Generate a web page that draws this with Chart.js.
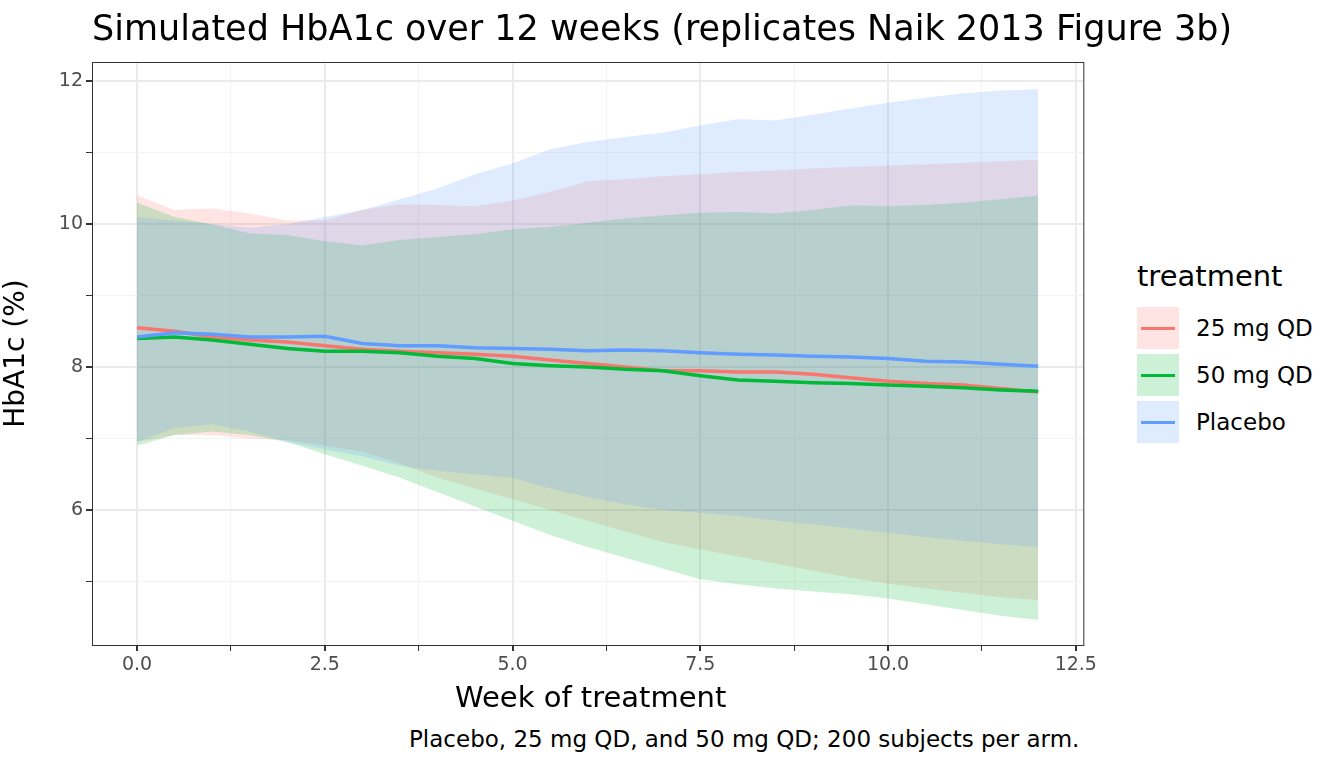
<!DOCTYPE html>
<html><head><meta charset="utf-8">
<script src="https://cdn.jsdelivr.net/npm/chart.js@4"></script>
<style>
body{margin:0;background:#fff;font-family:"DejaVu Sans",sans-serif;}
#wrap{position:relative;width:1344px;height:768px;}
#box{position:absolute;left:0;top:0;width:1100px;height:700px;}
.t{position:absolute;white-space:nowrap;color:#000;}
.key{position:absolute;left:1137px;width:42px;height:42px;}
.key i{position:absolute;left:4px;right:4px;top:20px;height:3px;}
</style></head><body>
<div id="wrap">
<div id="box"><canvas id="c"></canvas></div>
<div class="t" style="left:92px;top:8px;font-size:35px;">Simulated HbA1c over 12 weeks (replicates Naik 2013 Figure 3b)</div>
<div class="t" style="left:455px;top:680px;font-size:29px;">Week of treatment</div>
<div class="t" style="left:409px;top:726px;font-size:23px;">Placebo, 25 mg QD, and 50 mg QD; 200 subjects per arm.</div>
<div class="t" style="left:1137px;top:259px;font-size:29px;">treatment</div>
<div class="key" style="top:307px;background:rgba(248,118,109,0.2)"><i style="background:#F8766D"></i></div>
<div class="key" style="top:354px;background:rgba(0,186,56,0.2)"><i style="background:#00BA38"></i></div>
<div class="key" style="top:401px;background:rgba(97,156,255,0.2)"><i style="background:#619CFF"></i></div>
<div class="t" style="left:1196px;top:315px;font-size:23px;">25 mg QD</div>
<div class="t" style="left:1196px;top:362px;font-size:23px;">50 mg QD</div>
<div class="t" style="left:1196px;top:409px;font-size:23px;">Placebo</div>
</div>
<script>
const weeks = [0,0.5,1,1.5,2,2.5,3,3.5,4,4.5,5,5.5,6,6.5,7,7.5,8,8.5,9,9.5,10,10.5,11,11.5,12];
const qd25Mean = [8.55,8.5,8.42,8.38,8.35,8.3,8.25,8.22,8.2,8.18,8.15,8.1,8.05,8.0,7.95,7.95,7.93,7.93,7.9,7.85,7.8,7.77,7.75,7.7,7.65];
const qd25Upper = [10.4,10.2,10.22,10.15,10.05,10.05,10.2,10.28,10.27,10.25,10.33,10.45,10.6,10.63,10.67,10.7,10.73,10.75,10.78,10.8,10.82,10.84,10.86,10.88,10.9];
const qd25Lower = [6.95,7.05,7.05,7.0,6.98,6.9,6.82,6.65,6.45,6.3,6.15,6.0,5.85,5.7,5.55,5.45,5.35,5.25,5.15,5.05,4.97,4.9,4.84,4.78,4.74];
const qd50Mean = [8.4,8.42,8.38,8.32,8.26,8.22,8.22,8.2,8.15,8.12,8.05,8.02,8.0,7.97,7.95,7.88,7.82,7.8,7.78,7.77,7.75,7.73,7.71,7.68,7.66];
const qd50Upper = [10.3,10.1,10.0,9.87,9.85,9.76,9.7,9.78,9.82,9.86,9.93,9.96,10.02,10.08,10.12,10.16,10.17,10.15,10.2,10.26,10.25,10.27,10.3,10.35,10.4];
const qd50Lower = [6.9,7.05,7.1,7.05,6.95,6.78,6.62,6.45,6.25,6.05,5.85,5.65,5.48,5.33,5.18,5.03,4.96,4.9,4.86,4.82,4.76,4.68,4.6,4.52,4.46];
const placeboMean = [8.42,8.48,8.46,8.42,8.42,8.43,8.33,8.3,8.3,8.27,8.26,8.25,8.23,8.24,8.23,8.2,8.18,8.17,8.15,8.14,8.12,8.08,8.07,8.04,8.01];
const placeboUpper = [10.1,10.05,10.0,9.95,10.0,10.1,10.2,10.35,10.5,10.7,10.85,11.05,11.15,11.22,11.28,11.38,11.47,11.45,11.53,11.62,11.7,11.77,11.83,11.87,11.89];
const placeboLower = [6.95,7.15,7.2,7.1,6.95,6.85,6.75,6.62,6.55,6.5,6.45,6.3,6.18,6.08,6.0,5.96,5.92,5.85,5.8,5.74,5.68,5.62,5.57,5.52,5.48];

const pts = arr => arr.map((v,i) => ({x: weeks[i], y: v}));
function band(upper, lower, rgb) {
  return [
    {data: pts(upper), borderWidth: 0, pointRadius: 0, fill: '+1', backgroundColor: `rgba(${rgb},0.2)`},
    {data: pts(lower), borderWidth: 0, pointRadius: 0, fill: false}
  ];
}
function line(mean, color) {
  return {data: pts(mean), borderColor: color, borderWidth: 3.5, pointRadius: 0, fill: false};
}
// Chart.js paints the first dataset last, so lines go first
new Chart(document.getElementById('c'), {
  type: 'line',
  data: {datasets: [
    line(placeboMean, '#619CFF'), line(qd50Mean, '#00BA38'), line(qd25Mean, '#F8766D'),
    ...band(placeboUpper, placeboLower, '97,156,255'),
    ...band(qd50Upper, qd50Lower, '0,186,56'),
    ...band(qd25Upper, qd25Lower, '248,118,109')
  ]},
  options: {
    responsive: true, maintainAspectRatio: false, animation: false,
    layout: {padding: {top: 62, right: 8}},
    plugins: {legend: {display: false}, tooltip: {enabled: false}},
    scales: {
      x: {type: 'linear', min: -0.6, max: 12.6,
        afterFit: s => { s.height = 55; },
        afterBuildTicks: s => { s.ticks = [0,1.25,2.5,3.75,5,6.25,7.5,8.75,10,11.25,12.5].map(v => ({value: v})); },
        ticks: {color: '#4D4D4D', font: {size: 19, family: 'DejaVu Sans'}, autoSkip: false, maxRotation: 0,
          callback: v => (Math.abs(v / 2.5 - Math.round(v / 2.5)) < 1e-6) ? v.toFixed(1) : ''},
        grid: {color: ctx => (ctx.tick && Math.abs(ctx.tick.value / 2.5 - Math.round(ctx.tick.value / 2.5)) < 1e-6) ? '#EBEBEB' : '#F3F3F3', lineWidth: ctx => (ctx.tick && Math.abs(ctx.tick.value / 2.5 - Math.round(ctx.tick.value / 2.5)) < 1e-6) ? 2 : 1, tickColor: '#333', tickLength: 6},
        border: {color: '#333', width: 1}
      },
      y: {min: 4.11, max: 12.27,
        afterFit: s => { s.width = 92; },
        afterBuildTicks: s => { s.ticks = [5,6,7,8,9,10,11,12].map(v => ({value: v})); },
        ticks: {color: '#4D4D4D', font: {size: 19, family: 'DejaVu Sans'}, autoSkip: false,
          callback: v => v % 2 === 0 ? String(v) : ''},
        grid: {color: ctx => ctx.tick && ctx.tick.value % 2 === 0 ? '#EBEBEB' : '#F3F3F3', lineWidth: ctx => ctx.tick && ctx.tick.value % 2 === 0 ? 2 : 1, tickColor: '#333', tickLength: 6},
        border: {color: '#333', width: 1},
        title: {display: true, text: 'HbA1c (%)', color: '#000', font: {size: 28, family: 'DejaVu Sans'}, padding: {top: 0, bottom: 4}}
      }
    }
  },
  plugins: [{id: 'frame', afterDraw(chart) {
    const a = chart.chartArea, c = chart.ctx;
    c.save(); c.strokeStyle = '#333'; c.lineWidth = 1;
    c.strokeRect(a.left + 0.5, a.top + 0.5, a.width, a.height); c.restore();
  }}]
});
</script>
</body></html>
